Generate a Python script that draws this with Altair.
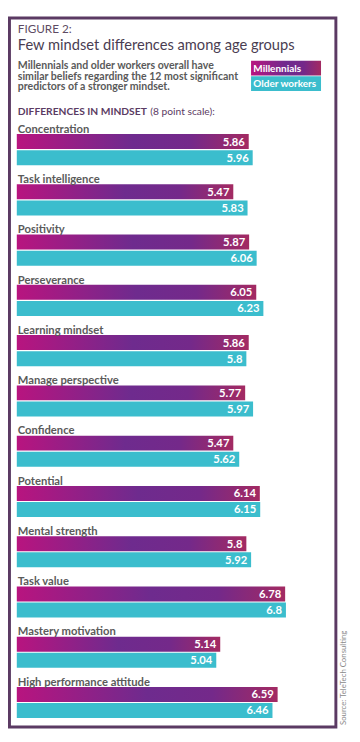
import altair as alt
import pandas as pd

categories = ["Concentration", "Task intelligence", "Positivity", "Perseverance",
              "Learning mindset", "Manage perspective", "Confidence", "Potential",
              "Mental strength", "Task value", "Mastery motivation",
              "High performance attitude"]
millennials = [5.86, 5.47, 5.87, 6.05, 5.86, 5.77, 5.47, 6.14, 5.8, 6.78, 5.14, 6.59]
older_workers = [5.96, 5.83, 6.06, 6.23, 5.8, 5.97, 5.62, 6.15, 5.92, 6.8, 5.04, 6.46]
series_names = ["Millennials", "Older workers"]
slots = ["label"] + series_names

fig_label = "FIGURE 2:"
title_text = "Few mindset differences among age groups"
subtitle_lines = ["Millennials and older workers overall have",
                  "similar beliefs regarding the 12 most significant",
                  "predictors of a stronger mindset."]
section_bold = "DIFFERENCES IN MINDSET"
section_rest = "(8 point scale):"
source_text = "Source: TeleTech Consulting"

rows = []
for c, m, o in zip(categories, millennials, older_workers):
    rows.append({"category": c, "series": series_names[0], "value": m, "label": str(m)})
    rows.append({"category": c, "series": series_names[1], "value": o, "label": str(o)})
df = pd.DataFrame(rows)
cat_df = pd.DataFrame({"category": categories, "slot": "label"})

FONT = "Lato"
grad = alt.Gradient(
    gradient="linear",
    stops=[alt.GradientStop(color="#b8147f", offset=0),
           alt.GradientStop(color="#6e2b8e", offset=0.5),
           alt.GradientStop(color="#74298a", offset=0.75),
           alt.GradientStop(color="#a32a62", offset=1)],
    x1=0, x2=1, y1=0, y2=0)
TEAL = "#3bbdcd"

xs = alt.X("value:Q", scale=alt.Scale(domain=[0, 8]), axis=None)
ys = alt.Y("category:N", scale=alt.Scale(domain=categories, paddingInner=0.06, paddingOuter=0), axis=None)
yo = alt.YOffset("series:N", scale=alt.Scale(domain=slots, paddingInner=0.07, paddingOuter=0))

base = alt.Chart(df)
bars_m = base.transform_filter(alt.datum.series == series_names[0]).mark_bar(fill=grad).encode(x=xs, y=ys, yOffset=yo)
bars_o = base.transform_filter(alt.datum.series == series_names[1]).mark_bar(fill=TEAL).encode(x=xs, y=ys, yOffset=yo)
vals = base.mark_text(align="right", baseline="middle", dx=-4, dy=1, color="white",
                      font=FONT, fontWeight="bold", fontSize=11.5).encode(
    x=xs, y=ys, yOffset=yo, text="label:N")

cat_labels = alt.Chart(cat_df).mark_text(align="left", baseline="alphabetic", dy=7.5, dx=1,
                                         font=FONT, fontWeight="bold", fontSize=11.5,
                                         color="#5a5a5a").encode(
    x=alt.X(datum=0, scale=alt.Scale(domain=[0, 8])),
    y=ys,
    yOffset=alt.YOffset("slot:N", scale=alt.Scale(domain=slots, paddingInner=0.07, paddingOuter=0)),
    text="category:N")

one = alt.Data(values=[{}])

def txt(text, x, y, **kw):
    return alt.Chart(one).mark_text(**kw).encode(x=alt.value(x), y=alt.value(y), text=alt.value(text))

frame = alt.Chart(one).mark_rect(fill=None, stroke="#5b3a63", strokeWidth=3).encode(
    x=alt.value(-7.5), x2=alt.value(326.5), y=alt.value(-102.3), y2=alt.value(623.2))

fig = txt(fig_label, 1, -86.8, align="left", baseline="alphabetic", font=FONT, fontSize=12,
          color="#5d4b63")
ttl = txt(title_text, 1, -69.3, align="left", baseline="alphabetic", font=FONT, fontSize=15,
          color="#4a3d52")
sub = txt(subtitle_lines, 1, -50.3, align="left", baseline="alphabetic", font=FONT, fontSize=10.8,
          fontWeight="bold", lineHeight=11, color="#5a5a5a")
sec1 = txt(section_bold, 1, -3.5, align="left", baseline="alphabetic", font=FONT, fontSize=10.5,
           fontWeight="bold", color="#5b3b63")
sec2 = txt(section_rest, 136.5, -3.5, align="left", baseline="alphabetic", font=FONT, fontSize=10.5,
           color="#5b3b63")

leg_m = alt.Chart(one).mark_rect(fill=grad).encode(
    x=alt.value(239.7), x2=alt.value(311.3), y=alt.value(-58.5), y2=alt.value(-43.5))
leg_o = alt.Chart(one).mark_rect(fill=TEAL).encode(
    x=alt.value(239.7), x2=alt.value(311.3), y=alt.value(-42.8), y2=alt.value(-27.5))
leg_mt = txt(series_names[0], 242, -50.5, align="left", baseline="middle", font=FONT, fontSize=10.2,
             fontWeight="bold", color="white")
leg_ot = txt(series_names[1], 242, -34.8, align="left", baseline="middle", font=FONT, fontSize=10.2,
             fontWeight="bold", color="white")
src = txt(source_text, 335, 621.2, align="left", baseline="middle", angle=270, font=FONT,
          fontSize=8, color="#8a8a8a")

chart = alt.layer(
    frame, fig, ttl, sub, sec1, sec2, leg_m, leg_o, leg_mt, leg_ot,
    bars_m, bars_o, vals, cat_labels, src
).properties(
    width=324, height=614,
    autosize=alt.AutoSizeParams(type="none"),
    padding={"left": 9, "top": 104, "right": 19, "bottom": 16},
    background="white",
).configure_view(stroke=None)

chart.save("out.html", embed_options={"renderer": "svg", "actions": False})
